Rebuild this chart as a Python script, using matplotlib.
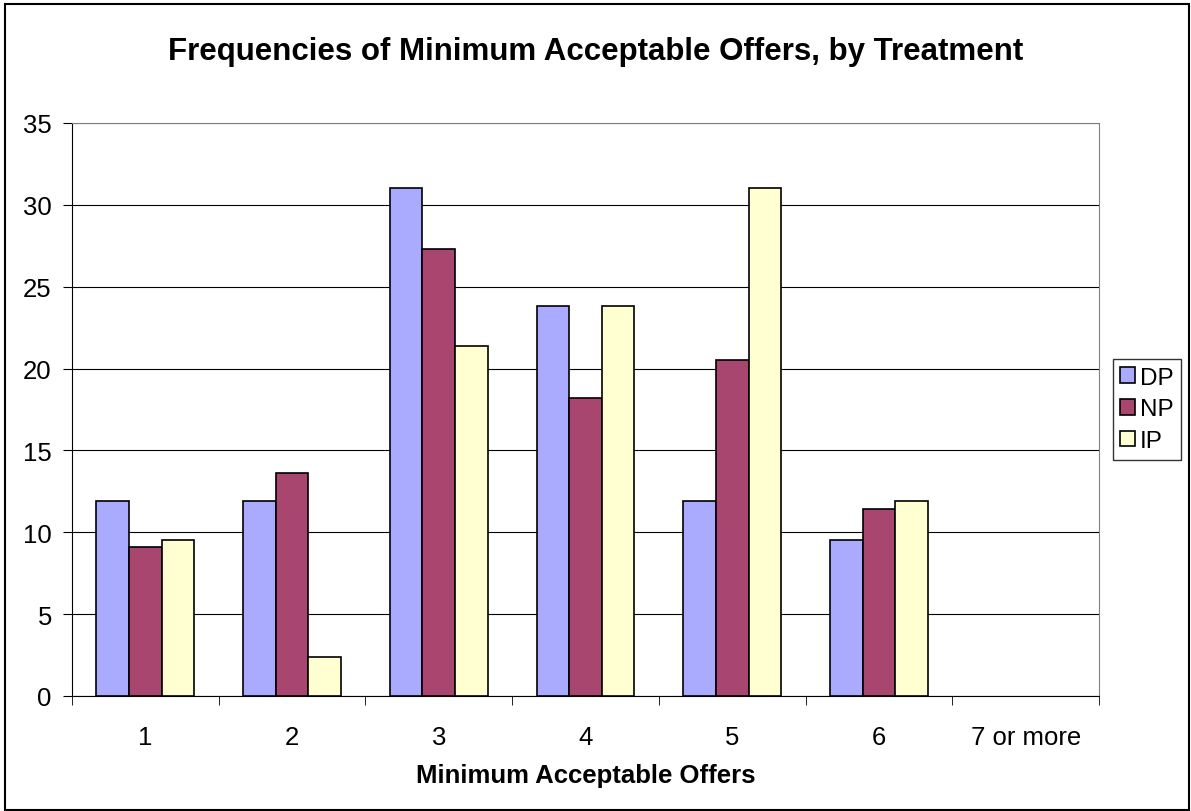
import numpy as np
import matplotlib.pyplot as plt
from matplotlib.patches import Rectangle

### DATA ###
categories = ['1', '2', '3', '4', '5', '6', '7 or more']
dp = [11.9, 11.9, 31.0, 23.8, 11.9, 9.5, 0]
np_vals = [9.1, 13.6, 27.3, 18.2, 20.5, 11.4, 0]
ip = [9.5, 2.4, 21.4, 23.8, 31.0, 11.9, 0]
series = [('DP', dp, '#aaaaff'), ('NP', np_vals, '#a94670'), ('IP', ip, '#ffffd2')]

### PLOT ###
plt.rcParams['font.family'] = ['Liberation Sans', 'DejaVu Sans']

W, H = 1191, 812
fig = plt.figure(figsize=(W / 100, H / 100), dpi=100)
ax = fig.add_axes([72 / W, 1 - 697 / H, 1027 / W, 573 / H])

# outer chart border
fig.patches.append(Rectangle((5 / W, 1 / H), 1184 / W, 806 / H, transform=fig.transFigure,
                             fill=False, edgecolor='black', linewidth=1.5))

x = np.arange(len(categories))
w = 1 / 4.5
for i, (name, vals, col) in enumerate(series):
    bars = ax.bar(x + (i - 1) * w, vals, width=w, color=col, edgecolor='black',
                  linewidth=1.2, label=name, zorder=3)
    # excel draws nothing for empty values
    for b in bars:
        if b.get_height() == 0:
            b.set_visible(False)

ax.set_xlim(-0.5, len(categories) - 0.5)
ax.set_ylim(0, 35)
ax.set_yticks(np.arange(0, 36, 5))
ax.yaxis.grid(True, color='black', linewidth=0.8, zorder=0)
ax.set_xticks(x)
ax.set_xticklabels(categories, fontsize=18.5)
ax.set_xticks(np.arange(-0.5, len(categories), 1), minor=True)
ax.tick_params(axis='x', which='major', length=0, pad=21)
ax.tick_params(axis='x', which='minor', length=6.5, direction='out', color='black')
ax.tick_params(axis='y', labelsize=18.5, length=6.5, direction='out', pad=8)

for side in ['top', 'right']:
    ax.spines[side].set_color('#808080')
ax.spines['left'].set_color('black')
ax.spines['bottom'].set_color('black')

ax.set_xlabel('Minimum Acceptable Offers', fontsize=18.5, fontweight='bold', labelpad=10)
fig.text(0.5, 1 - 52 / H, 'Frequencies of Minimum Acceptable Offers, by Treatment',
         ha='center', va='center', fontsize=22.5, fontweight='bold')

leg = ax.legend(loc='center left', bbox_to_anchor=((1113 - 72) / 1027, 0.5), fontsize=17.5,
                frameon=True, fancybox=False, edgecolor='black', handlelength=0.6,
                handleheight=0.6, handletextpad=0.2, borderpad=0.3, labelspacing=0.4,
                borderaxespad=0)
leg.get_frame().set_linewidth(1.0)

plt.savefig('out.png', dpi=100)
